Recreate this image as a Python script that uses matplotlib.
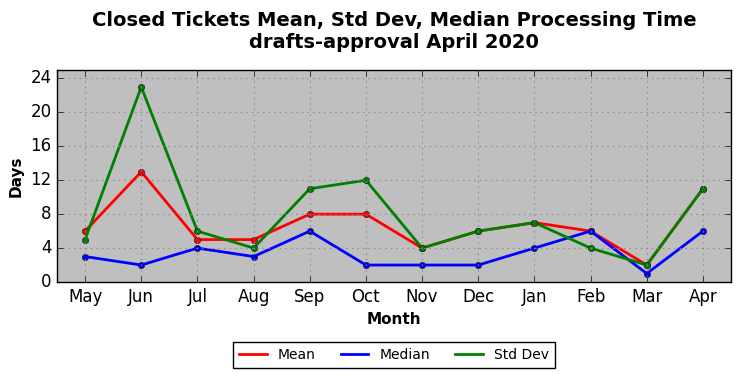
import matplotlib
matplotlib.use("Agg")
import matplotlib.pyplot as plt

months = ["May", "Jun", "Jul", "Aug", "Sep", "Oct", "Nov", "Dec", "Jan", "Feb", "Mar", "Apr"]
mean_vals = [6, 13, 5, 5, 8, 8, 4, 6, 7, 6, 2, 11]
median_vals = [3, 2, 4, 3, 6, 2, 2, 2, 4, 6, 1, 6]
std_vals = [5, 23, 6, 4, 11, 12, 4, 6, 7, 4, 2, 11]
yticks = [0, 4, 8, 12, 16, 20, 24]

plt.style.use("classic")
fig = plt.figure(figsize=(7.42, 3.78), dpi=100, facecolor="white")
ax = fig.add_axes([57/742, 1-282/378, (731-57)/742, (282-70)/378])
ax.set_facecolor("#bfbfbf")
x = list(range(len(months)))
ax.plot(x, mean_vals, color="red", lw=2, marker="o", ms=4.5, mec="#222222", label="Mean")
ax.plot(x, median_vals, color="blue", lw=2, marker="o", ms=4.5, mec="#222222", label="Median")
ax.plot(x, std_vals, color="green", lw=2, marker="o", ms=4.5, mec="#222222", label="Std Dev")
ax.set_xlim(-0.5, 11.5)
ax.set_ylim(0, 25)
ax.set_xticks(x)
ax.set_xticklabels(months, fontsize=12)
ax.set_yticks(yticks)
ax.tick_params(labelsize=12)
ax.grid(True, color="#888888", linestyle=":", linewidth=0.8)
ax.set_xlabel("Month", fontsize=11, fontweight="bold")
ax.set_ylabel("Days", fontsize=11, fontweight="bold")
ax.set_title("Closed Tickets Mean, Std Dev, Median Processing Time\ndrafts-approval April 2020",
             fontsize=14, fontweight="bold", pad=16)
leg = fig.legend(loc="center", bbox_to_anchor=(394/742, 1-355/378), ncol=3, fontsize=10,
                 frameon=True, fancybox=False, handlelength=2, columnspacing=1.8, numpoints=1)
for h in leg.legend_handles:
    h.set_marker("")
fig.savefig("out.png", dpi=100, facecolor="white")
